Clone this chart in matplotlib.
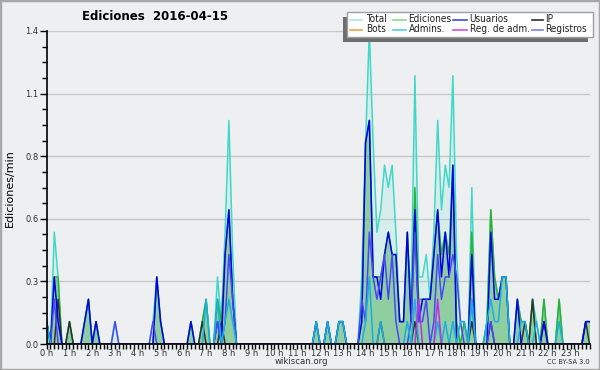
import numpy as np
import matplotlib
matplotlib.use("Agg")
import matplotlib.pyplot as plt
from matplotlib.lines import Line2D
from matplotlib.patches import Rectangle
from matplotlib import font_manager

# ---- data: edits per minute, 10-minute bins (6 per hour, rows = hours 0..23) ----
total = [
    .1, 0, .5, .3, 0, 0,
    .1, 0, 0, 0, .1, .2,
    0, .1, 0, 0, 0, 0,
    .1, 0, 0, 0, 0, 0,
    0, 0, 0, 0, .1, .3,
    .1, 0, 0, 0, 0, 0,
    0, 0, .1, 0, 0, .1,
    .2, 0, 0, .3, .1, .5,
    1.0, .4, 0, 0, 0, 0,
    0, 0, 0, 0, 0, 0,
    0, 0, 0, 0, 0, 0,
    0, 0, 0, 0, 0, .1,
    0, 0, .1, 0, 0, .1,
    .1, 0, 0, 0, 0, .3,
    .9, 1.4, .9, .5, .6, .8,
    .7, .8, .5, .1, .1, .5,
    .2, 1.2, .3, .3, .4, .2,
    .5, 1.0, .6, .8, .7, 1.2,
    .4, .1, .1, 0, .7, 0,
    0, 0, .1, .6, .3, .2,
    .3, .3, 0, 0, .2, .1,
    .1, 0, .2, .1, 0, .2,
    0, 0, 0, .2, 0, 0,
    0, 0, 0, 0, .1, .1,
]
ediciones = [
    .1, 0, .3, .3, 0, 0,
    .1, 0, 0, 0, .1, .2,
    0, .1, 0, 0, 0, 0,
    0, 0, 0, 0, 0, 0,
    0, 0, 0, 0, 0, .3,
    .1, 0, 0, 0, 0, 0,
    0, 0, .1, 0, 0, .1,
    .2, 0, 0, .2, .1, .4,
    .6, .2, 0, 0, 0, 0,
    0, 0, 0, 0, 0, 0,
    0, 0, 0, 0, 0, 0,
    0, 0, 0, 0, 0, .1,
    0, 0, .1, 0, 0, .1,
    .1, 0, 0, 0, 0, .1,
    .9, 1.0, .3, .3, .3, .4,
    .5, .4, .4, .1, .1, .5,
    .1, .7, .2, .2, .2, .2,
    .4, .6, .4, .5, .4, .8,
    .1, 0, .1, 0, .5, 0,
    0, 0, .1, .6, .3, .2,
    .3, .3, 0, 0, .2, .1,
    .1, 0, .2, 0, 0, .2,
    0, 0, 0, .2, 0, 0,
    0, 0, 0, 0, .1, .1,
]
usuarios = [
    .1, 0, .3, .1, 0, 0,
    0, 0, 0, 0, .1, .2,
    0, .1, 0, 0, 0, 0,
    0, 0, 0, 0, 0, 0,
    0, 0, 0, 0, 0, .3,
    .1, 0, 0, 0, 0, 0,
    0, 0, .1, 0, 0, 0,
    0, 0, 0, .1, 0, .4,
    .6, .2, 0, 0, 0, 0,
    0, 0, 0, 0, 0, 0,
    0, 0, 0, 0, 0, 0,
    0, 0, 0, 0, 0, .1,
    0, 0, .1, 0, 0, .1,
    .1, 0, 0, 0, 0, .1,
    .9, 1.0, .3, .3, .2, .4,
    .5, .4, .4, .1, .1, .5,
    .1, .6, .1, .2, .2, .2,
    .4, .6, .3, .5, .3, .8,
    0, 0, 0, 0, .4, 0,
    0, 0, 0, .5, .2, .2,
    .3, .3, 0, 0, .2, 0,
    0, 0, 0, 0, 0, .1,
    0, 0, 0, 0, 0, 0,
    0, 0, 0, 0, .1, .1,
]
ip = [
    0, 0, 0, .2, 0, 0,
    .1, 0, 0, 0, 0, 0,
    0, 0, 0, 0, 0, 0,
    0, 0, 0, 0, 0, 0,
    0, 0, 0, 0, 0, 0,
    0, 0, 0, 0, 0, 0,
    0, 0, 0, 0, 0, .1,
    0, 0, 0, 0, .1, 0,
    0, 0, 0, 0, 0, 0,
    0, 0, 0, 0, 0, 0,
    0, 0, 0, 0, 0, 0,
    0, 0, 0, 0, 0, 0,
    0, 0, 0, 0, 0, 0,
    0, 0, 0, 0, 0, 0,
    0, 0, 0, 0, .1, 0,
    0, 0, 0, 0, 0, 0,
    0, .1, 0, 0, 0, 0,
    0, 0, 0, 0, 0, 0,
    0, 0, 0, 0, .1, 0,
    0, 0, 0, .1, 0, 0,
    0, 0, 0, 0, 0, 0,
    .1, 0, .2, 0, 0, .1,
    0, 0, 0, 0, 0, 0,
    0, 0, 0, 0, .1, 0,
]
bots = [0] * 144
admins = [
    .1, 0, 0, 0, 0, 0,
    0, 0, 0, 0, 0, 0,
    0, 0, 0, 0, 0, 0,
    0, 0, 0, 0, 0, 0,
    0, 0, 0, 0, 0, 0,
    0, 0, 0, 0, 0, 0,
    0, 0, 0, 0, 0, 0,
    .2, 0, 0, .2, 0, .1,
    .2, .1, 0, 0, 0, 0,
    0, 0, 0, 0, 0, 0,
    0, 0, 0, 0, 0, 0,
    0, 0, 0, 0, 0, .1,
    0, 0, .1, 0, 0, .1,
    .1, 0, 0, 0, 0, 0,
    .1, .3, 0, 0, .1, 0,
    0, 0, 0, 0, 0, .1,
    0, .2, 0, 0, 0, 0,
    0, .1, 0, .1, 0, .1,
    0, .1, .1, 0, .2, 0,
    0, 0, .1, .2, .1, .1,
    .3, .3, 0, 0, 0, .1,
    .1, 0, 0, .1, 0, 0,
    0, 0, 0, .1, 0, 0,
    0, 0, 0, 0, 0, 0,
]
reg_adm = [0] * 98 + [.2, 0, 0, 0, 0, .2] + [0] * 40
registros = [
    0, 0, .2, 0, 0, 0,
    0, 0, 0, 0, 0, 0,
    0, 0, 0, 0, 0, 0,
    .1, 0, 0, 0, 0, 0,
    0, 0, 0, 0, .1, 0,
    0, 0, 0, 0, 0, 0,
    0, 0, 0, 0, 0, 0,
    0, 0, 0, .1, 0, .1,
    .4, .2, 0, 0, 0, 0,
    0, 0, 0, 0, 0, 0,
    0, 0, 0, 0, 0, 0,
    0, 0, 0, 0, 0, 0,
    0, 0, 0, 0, 0, 0,
    0, 0, 0, 0, 0, .2,
    .1, .5, .3, .2, .3, .4,
    .2, .4, .1, 0, 0, 0,
    .1, .5, .1, .1, .2, 0,
    .1, .4, .2, .3, .3, .4,
    .3, .1, 0, 0, .2, 0,
    0, 0, 0, .1, 0, 0,
    0, 0, 0, 0, 0, 0,
    0, 0, 0, 0, 0, 0,
    0, 0, 0, 0, 0, 0,
    0, 0, 0, 0, 0, 0,
]
hour_labels = [f"{h} h" for h in range(24)]
legend_names = ["Total", "Ediciones", "Usuarios", "IP",
                "Bots", "Admins.", "Reg. de adm.", "Registros"]
y_max = 1.4

# ---- styling ----
BG = "#eeeff1"
W, H = 600, 370
fig = plt.figure(figsize=(6, 3.7), dpi=100, facecolor=BG)
ax = fig.add_axes([46.7 / W, 26 / H, (589.5 - 46.7) / W, (344 - 31) / H])
ax.set_facecolor(BG)

x = np.arange(len(total)) / 6.0

ax.fill_between(x, total, color="#40e0d0", alpha=0.13, lw=0, zorder=1)
ax.fill_between(x, ediciones, color="#3aa845", alpha=0.45, lw=0, zorder=2)

lw = 1.1
ax.plot(x, total, color="#40d8c8", lw=lw, zorder=3)
ax.plot(x, ediciones, color="#30b030", lw=lw, zorder=4)
ax.plot(x, bots, color="#ff9020", lw=lw, zorder=3.5)
ax.plot(x, ip, color="#303030", lw=lw, zorder=5)
ax.plot(x, usuarios, color="#0000ee", lw=lw, zorder=6)
ax.plot(x, registros, color="#4848f8", lw=lw, zorder=7)
ax.plot(x, admins, color="#18b0e0", lw=lw, zorder=8)
ax.plot(x, reg_adm, color="#c030e0", lw=lw, zorder=9)

ax.set_xlim(0, x[-1])
ax.set_ylim(0, y_max)

tick_fs = 6
yt = np.linspace(0, y_max, 6)
ax.set_yticks(yt)
ax.set_yticklabels([f"{v:.1f}" for v in yt], fontsize=tick_fs, color="#333333")
ax.set_yticks(np.arange(0, y_max + 1e-9, y_max / 20), minor=True)
ax.tick_params(axis="y", which="major", length=5, width=1, direction="out", pad=1)
ax.tick_params(axis="y", which="minor", length=3.5, width=1, direction="out")
ax.set_xticks(np.arange(24))
ax.set_xticklabels(hour_labels, fontsize=tick_fs, color="#333333")
ax.set_xticks(np.arange(0, x[-1] + 1e-9, 1 / 6), minor=True)
ax.tick_params(axis="x", which="major", length=3.5, width=1, direction="out", pad=0)
ax.tick_params(axis="x", which="minor", length=3.5, width=1, direction="out")

for v in yt[1:]:
    ax.axhline(v, color="#c8c8c8", lw=1, zorder=0.5)

for s in ["top", "right"]:
    ax.spines[s].set_visible(False)
for s in ["left", "bottom"]:
    ax.spines[s].set_color("black")
    ax.spines[s].set_linewidth(1.2)
    ax.spines[s].set_zorder(20)

def fx(px):
    return px / W

def fy(py):
    return 1 - py / H

fig.text(fx(10), fy(188), "Ediciones/min", rotation=90, fontsize=8,
         ha="center", va="center", color="black")
fig.text(fx(155), fy(17), "Ediciones  2016-04-15", fontsize=8.5,
         fontweight="bold", ha="center", va="center")
fig.text(fx(301), fy(362), "wikiscan.org", fontsize=6.2, ha="center",
         va="center", color="#333333")
fig.text(fx(590), fy(362.5), "CC BY-SA 3.0", fontsize=4.8, ha="right",
         va="center", color="#333333")

# ---- legend (drawn by hand to match box + offset shadow) ----
cond = font_manager.FontProperties(family="DejaVu Sans", stretch="condensed")
use_cond = "Condensed" in font_manager.findfont(cond)
leg_fs = 7.2 if use_cond else 6.6
leg_stretch = "condensed" if use_cond else "normal"

fig.patches.append(Rectangle((fx(343), fy(41.5)), (588 - 343) / W, 25 / H,
                             transform=fig.transFigure, facecolor="#6e6e6e",
                             edgecolor="none", zorder=25))
fig.patches.append(Rectangle((fx(346.5), fy(36.8)), (593 - 346.5) / W, 25 / H,
                             transform=fig.transFigure, facecolor="white",
                             edgecolor="#a0a0a0", lw=1, zorder=26))
leg_cols = ["#a8e8e0", "#90d890", "#4848e8", "#303030",
            "#f0a040", "#50d0e0", "#d050e0", "#8080f0"]
handle_x = [(350, 362), (393, 406), (453, 467), (532, 543)]
text_x = [366, 408.5, 469.5, 545]
row_y = [19.5, 29.5]
for k, (name, col) in enumerate(zip(legend_names, leg_cols)):
    r, c = divmod(k, 4)
    x0, x1 = handle_x[c]
    fig.lines.append(Line2D([fx(x0), fx(x1)], [fy(row_y[r]), fy(row_y[r])],
                            transform=fig.transFigure, color=col, lw=1.2, zorder=27))
    fig.text(fx(text_x[c]), fy(row_y[r]), name, fontsize=leg_fs, fontstretch=leg_stretch,
             ha="left", va="center", color="#222222", zorder=28)

fig.patches.append(Rectangle((0, 0), 1, 1, transform=fig.transFigure, fill=False,
                             edgecolor="#a8a8a8", lw=2.5, zorder=40))

fig.savefig("out.png", dpi=100, facecolor=BG)
